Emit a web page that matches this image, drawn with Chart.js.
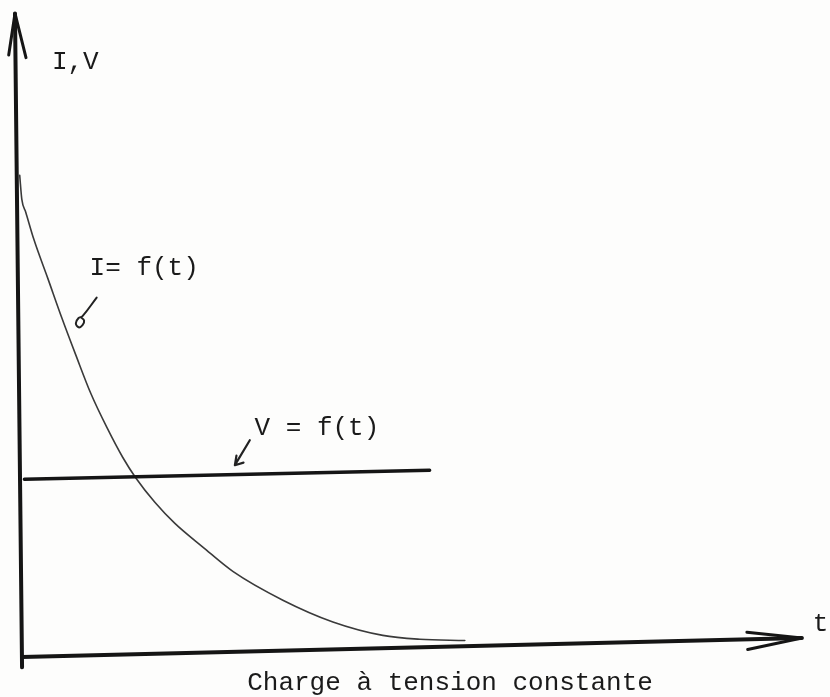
<!DOCTYPE html>
<html>
<head>
<meta charset="utf-8">
<script src="https://cdn.jsdelivr.net/npm/chart.js@4.4.1/dist/chart.umd.min.js"></script>
<style>
  html, body { margin: 0; padding: 0; background: #fdfdfc; }
  #graphiqueCharge { display: block; }
</style>
</head>
<body>
<canvas id="graphiqueCharge" width="830" height="697"></canvas>
<script>
// courbe I = f(t) (unites arbitraires)
const tempsI = [0, 0.27, 0.78, 1.8, 3.58, 5.37, 7.15, 9.06, 11.1, 13.13, 14.79, 17.21, 19.76, 23.32, 27.14, 33.51, 39.88, 46.24, 50.95, 56.68];
const courantI = [75.0, 71.25, 69.2, 65.0, 58.9, 52.7, 46.9, 40.9, 35.6, 30.9, 27.7, 23.9, 20.6, 16.9, 13.1, 8.6, 5.2, 3.1, 2.5, 2.3];

// droite V = f(t)
const tempsV = [0.6, 52.2];
const tensionV = [27.5, 28.9];

// axes (trait a la main, legerement incline)
const axeXt = [0.3, 99.6];
const axeXy = [-0.3, 2.7];
const flecheXt = [92.6, 99.6, 92.7];
const flecheXy = [3.6, 2.7, 0.9];
const axeYt = [0.3, -0.6];
const axeYy = [-1.9, 100.3];
const flecheYt = [-1.4, -0.6, 0.8];
const flecheYy = [93.8, 100.3, 93.4];

// petites fleches vers les courbes
const renvoiIt = [9.8, 8.0, 7.5, 7.15, 7.5, 8.0, 8.2, 7.8];
const renvoiIy = [55.9, 53.0, 52.7, 51.9, 51.25, 51.6, 52.3, 52.8];
const renvoiVt = [29.3, 27.4, 27.6, 27.4, 28.5];
const renvoiVy = [33.6, 29.7, 31.2, 29.7, 30.1];

// textes
const textes = ['I,V', 'I= f(t)', 'V = f(t)', 't'];
const textesT = [4.1, 8.9, 29.9, 101.0];
const textesY = [92.7, 60.5, 35.5, 4.8];
const legende = 'Charge à tension constante';

function points(xs, ys) {
    return xs.map(function (x, i) { return { x: x, y: ys[i] }; });
}

function trait(xs, ys, epaisseur, couleur, lisse) {
    return {
        data: points(xs, ys),
        showLine: true,
        borderColor: couleur,
        borderWidth: epaisseur,
        pointRadius: 0,
        tension: lisse ? 0.4 : 0,
        borderCapStyle: 'round',
        borderJoinStyle: 'round',
        clip: false
    };
}

const pluginTextes = {
    id: 'pluginTextes',
    beforeDraw: function (chart) {
        const ctx = chart.ctx;
        ctx.save();
        ctx.fillStyle = '#fdfdfc';
        ctx.fillRect(0, 0, chart.width, chart.height);
        ctx.restore();
    },
    afterDraw: function (chart) {
        const ctx = chart.ctx;
        const sx = chart.scales.x;
        const sy = chart.scales.y;
        ctx.save();
        ctx.fillStyle = '#1a1a1a';
        ctx.font = '26px "Liberation Mono", "DejaVu Sans Mono", monospace';
        ctx.textBaseline = 'middle';
        ctx.textAlign = 'left';
        textes.forEach(function (txt, i) {
            ctx.fillText(txt, sx.getPixelForValue(textesT[i]), sy.getPixelForValue(textesY[i]));
        });
        ctx.textAlign = 'center';
        ctx.fillText(legende, sx.getPixelForValue(54.8), sy.getPixelForValue(-4.4));
        ctx.restore();
    }
};

document.addEventListener('DOMContentLoaded', function () {
    const courbeI = trait(tempsI, courantI, 1.6, '#3a3a3a', false);
    courbeI.cubicInterpolationMode = 'monotone';

    const config = {
        type: 'scatter',
        data: {
            datasets: [
                trait(axeXt, axeXy, 4, '#151515', false),
                trait(flecheXt, flecheXy, 3, '#151515', false),
                trait(axeYt, axeYy, 4, '#151515', false),
                trait(flecheYt, flecheYy, 3, '#151515', false),
                trait(tempsV, tensionV, 3.5, '#151515', false),
                courbeI,
                trait(renvoiIt, renvoiIy, 2, '#222222', true),
                trait(renvoiVt, renvoiVy, 2.2, '#222222', false)
            ]
        },
        options: {
            responsive: false,
            animation: false,
            layout: { padding: { left: 4, right: 25, top: 9, bottom: 29 } },
            scales: {
                x: { type: 'linear', min: -2, max: 100, display: false },
                y: { type: 'linear', min: -2, max: 101, display: false }
            },
            plugins: {
                legend: { display: false },
                tooltip: { enabled: false }
            }
        },
        plugins: [pluginTextes]
    };

    var graphiqueCharge = new Chart(
        document.getElementById('graphiqueCharge'),
        config
    );
});
</script>
</body>
</html>
